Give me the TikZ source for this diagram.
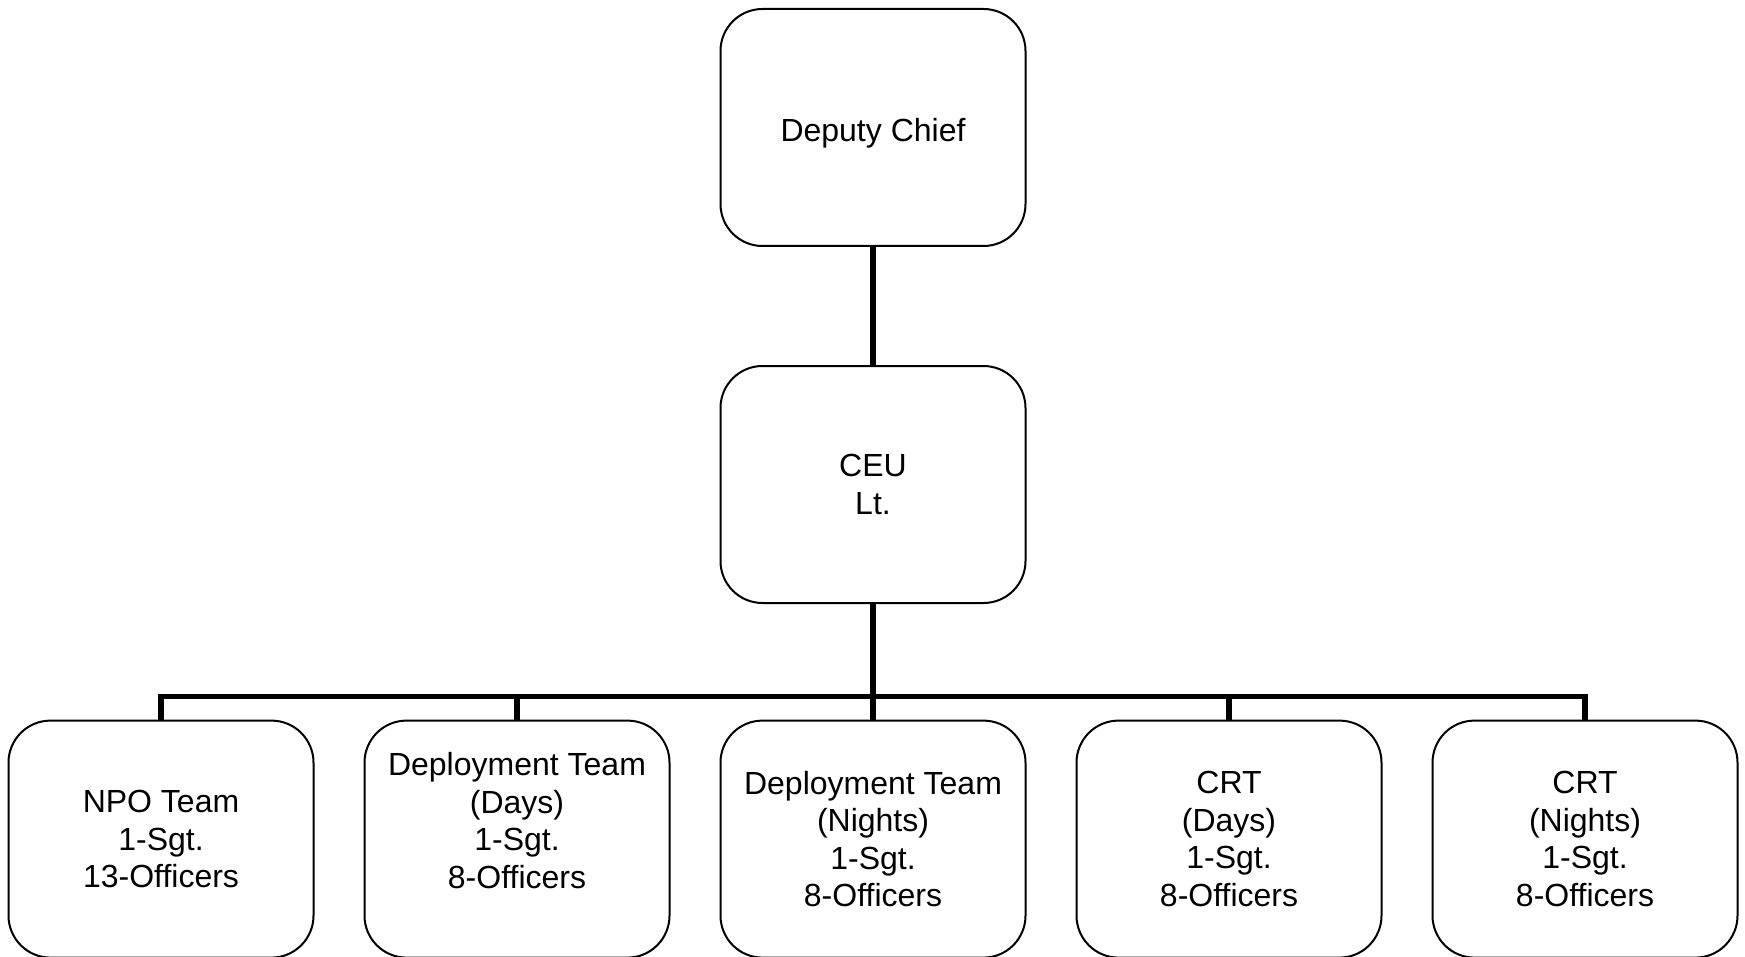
\documentclass[tikz,border=0pt]{standalone}
\usepackage{fontspec}
\setmainfont{Liberation Sans}
\usepackage{tikz}
\usetikzlibrary{positioning}

\tikzset{
  orgbox/.style={draw=black, line width=1pt, rounded corners=21pt, fill=white,
    minimum width=152.5pt, minimum height=118.5pt, align=center, inner sep=2pt,
    font=\fontsize{16}{18.75}\selectfont},
  link/.style={draw=black, line width=2.6pt}
}

\begin{document}
\begin{tikzpicture}
\useasboundingbox[fill=white] (0,0) rectangle (872.5pt,-478.5pt);

% top of the chart
\node[orgbox] (chief) at (436.5pt,-63.75pt) {\raisebox{0pt}[\dimexpr\height+5.6pt\relax][\depth]{Deputy Chief}};
\node[orgbox, below=59pt of chief] (ceu) {CEU\\Lt.};

% teams
\node[orgbox, below=57.8pt of ceu] (depnights) {Deployment Team\\(Nights)\\1-Sgt.\\8-Officers};
\node[orgbox, left=24.5pt of depnights] (depdays) {Deployment Team\\(Days)\\1-Sgt.\\8-Officers\\\mbox{}};
\node[orgbox, left=24.5pt of depdays] (npo) {NPO Team\\1-Sgt.\\13-Officers};
\node[orgbox, right=24.5pt of depnights] (crtdays) {CRT\\(Days)\\1-Sgt.\\8-Officers};
\node[orgbox, right=24.5pt of crtdays] (crtnights) {CRT\\(Nights)\\1-Sgt.\\8-Officers};

% connectors
\path (depnights.north) ++(0,11.5pt) coordinate (bus);
\draw[link] (chief.south) -- (ceu.south |- chief.south) -- (ceu.north);
\draw[link] (ceu.south) -- (bus);
\draw[link] (npo.north) -- (npo.north |- bus) -- (crtnights.north |- bus) -- (crtnights.north);
\draw[link] (depdays.north) -- (depdays.north |- bus);
\draw[link] (depnights.north) -- (bus);
\draw[link] (crtdays.north) -- (crtdays.north |- bus);
\end{tikzpicture}
\end{document}
